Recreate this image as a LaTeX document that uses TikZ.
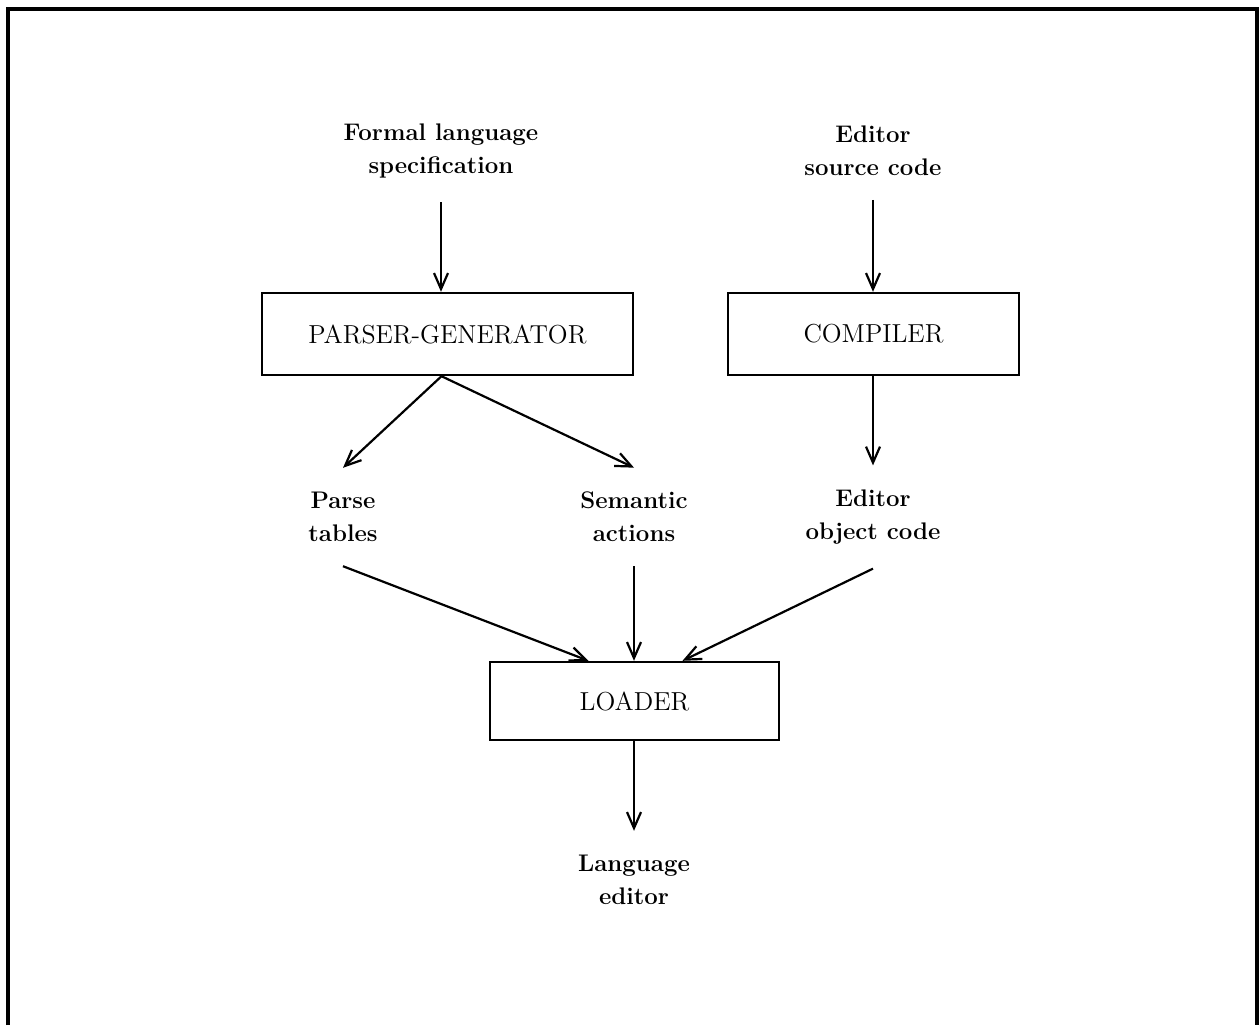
\documentclass[tikz,border=0pt]{standalone}
\usetikzlibrary{arrows.meta}
\begin{document}
\begin{tikzpicture}[x=0.5pt,y=-0.5pt,
  lbl/.style={align=center,font=\fontsize{12}{16.5}\selectfont\bfseries,inner xsep=2pt,inner ysep=12pt},
  box/.style={draw,line width=1.2pt,inner sep=0pt,minimum height=41pt,font=\fontsize{13}{15}\selectfont},
  arr/.style={line width=1.1pt,-{Straight Barb[length=8pt,width=7pt,line width=1.1pt]}},
  frame/.style={line width=1.6pt}]
\useasboundingbox (0,0) rectangle (1260,1025);
% frame (open at bottom)
\draw[frame] (8,1025) -- (8,9) -- (1257,9) -- (1257,1025);
% labels
\node[lbl] (fls) at (441,150.5) {Formal language\\specification};
\node[lbl] (esc) at (873,150.5) {Editor\\source code};
\node[lbl] (pt) at (343,517) {Parse\\tables};
\node[lbl] (sa) at (634,517) {Semantic\\actions};
\node[lbl] (eoc) at (873,517) {Editor\\object code};
\node[lbl] (le) at (634,880) {Language\\editor};
% boxes
\node[box,minimum width=185.5pt] (pg) at (447.5,334) {PARSER-GENERATOR};
\node[box,minimum width=145.5pt] (comp) at (873.5,334) {COMPILER};
\node[box,minimum width=144.5pt,minimum height=39pt] (ld) at (634.5,701) {LOADER};
% arrows
\draw[arr] (fls.south) -- (fls.south |- pg.north);
\draw[arr] (esc.south) -- (esc.south |- comp.north);
\draw[arr] ([xshift=-3pt]pg.south) -- (pt.north);
\draw[arr] ([xshift=-3pt]pg.south) -- (sa.north);
\draw[arr] (comp.south -| eoc.north) -- (eoc.north);
\draw[arr] (pt.south) -- ([xshift=-23pt]ld.north);
\draw[arr] (sa.south) -- (sa.south |- ld.north);
\draw[arr] (eoc.south) -- ([xshift=24pt]ld.north);
\draw[arr] (le.north |- ld.south) -- (le.north);
\end{tikzpicture}
\end{document}
